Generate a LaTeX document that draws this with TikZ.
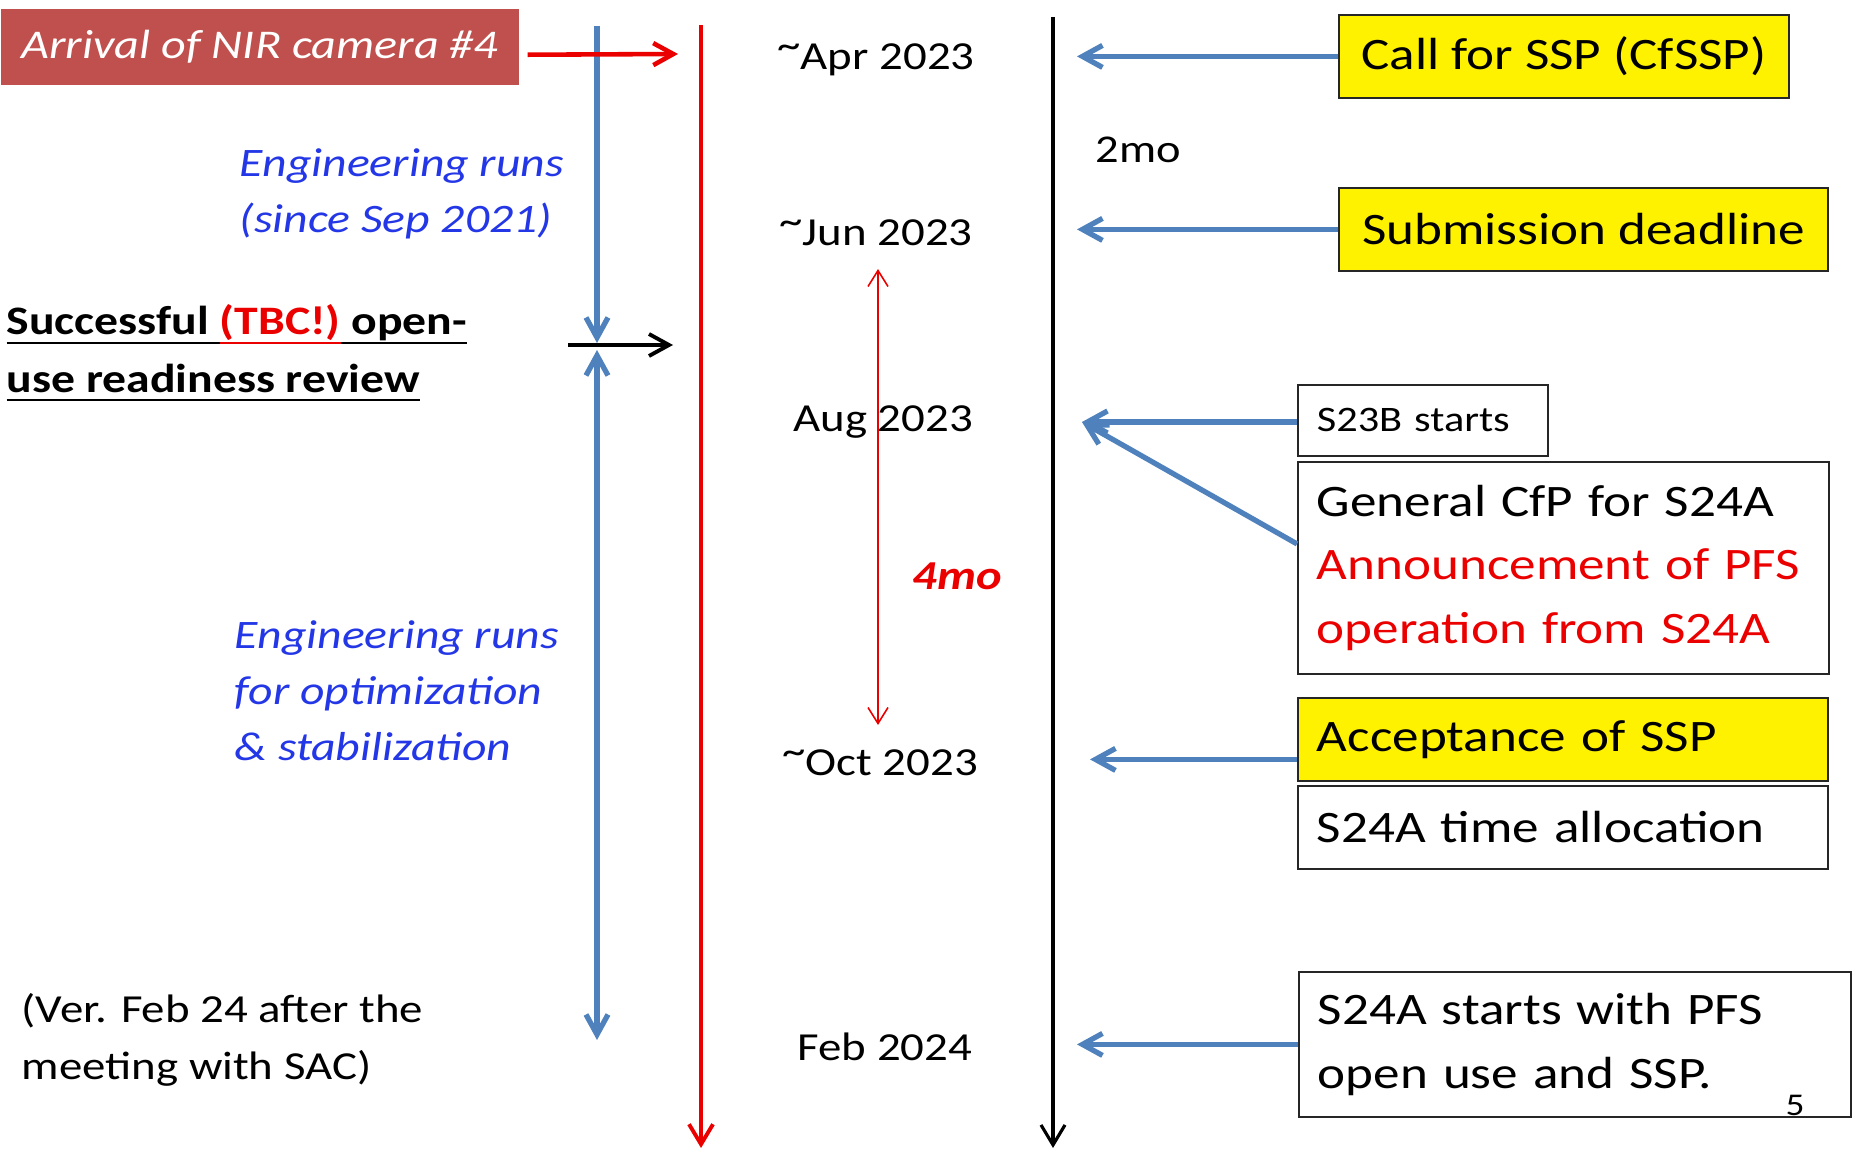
\documentclass[tikz,border=0pt]{standalone}
\usepackage{fontspec}
\setmainfont[FakeStretch=1.18]{Carlito}
\usetikzlibrary{arrows.meta, positioning}

\definecolor{boxred}{HTML}{C0504D}
\definecolor{lineblue}{HTML}{4F81BD}
\definecolor{engblue}{RGB}{35,55,230}
\definecolor{hotred}{RGB}{235,0,0}

% underlined piece of text, rule in the current colour
\newcommand\ulseg[1]{\setbox0\hbox{#1}\rlap{\vrule height -0.17em depth 0.22em width \wd0}\box0}
\newcommand\tl{\raisebox{0.28em}{\textasciitilde}}

\tikzset{
  barb/.style={-{Straight Barb[length=2mm,width=2.2mm]}},
  bluearrow/.style={barb, draw=lineblue, line width=1.5pt},
  datelabel/.style={font=\fontsize{11.3}{14}\selectfont, inner sep=0pt},
  englabel/.style={text=engblue, font=\fontsize{11.5}{15.9}\selectfont\itshape, align=left, inner sep=0pt, anchor=west},
  notebox/.style={draw=black!85, line width=0.5pt, anchor=north west, inner xsep=0.19cm, inner ysep=0pt, align=left, font=\fontsize{12.8}{18}\selectfont},
  yellowbox/.style={notebox, fill=yellow},
}

\begin{document}
\begin{tikzpicture}[x=0.01cm, y=-0.01cm]
\useasboundingbox (0,0) rectangle (1857,1149);

% time axes
\coordinate (redtop) at (701,25);
\coordinate (redbot) at (701,1148);
\coordinate (blktop) at (1053,17);
\coordinate (blkbot) at (1053,1148);
\draw[hotred, line width=1.1pt, -{Straight Barb[length=2mm,width=2.4mm]}] (redtop) -- (redbot);
\draw[black, line width=0.9pt, -{Straight Barb[length=2mm,width=2.4mm]}] (blktop) -- (blkbot);

% engineering runs
\coordinate (engtop) at (597,26);
\coordinate (engmidA) at (597,343);
\coordinate (engmidB) at (597,350);
\coordinate (engbot) at (597,1040);
\draw[bluearrow] (engtop) -- (engmidA);
\draw[bluearrow, {Straight Barb[length=2mm,width=2.2mm]}-{Straight Barb[length=2mm,width=2.2mm]}] (engmidB) -- (engbot);

\node[fill=boxred, text=white, anchor=north west, minimum width=5.18cm, minimum height=0.76cm, inner sep=0pt,
      font=\fontsize{11.6}{14}\selectfont\itshape] (arrival) at (0,8) {\raisebox{-0.14em}{Arrival of NIR camera \#4}};
\coordinate (arrtip) at (678,54);
\draw[hotred, line width=1.3pt, barb] ([xshift=0.08cm,yshift=-0.08cm]arrival.east) -- (arrtip);

\node[englabel] (engA) at (239,194) {Engineering runs\\(since Sep 2021)};
\node[englabel] (engB) at (234,691) {Engineering runs\\for optimization\\\& stabilization};

\node[anchor=west, align=left, inner sep=0pt, font=\fontsize{11.5}{16.4}\selectfont\bfseries] (review) at (6,353)
  {\ulseg{Successful\ }\textcolor{hotred}{\ulseg{(TBC!)}}\ulseg{\ open-}\\\ulseg{use readiness review}};
\coordinate (revtail) at (568,345);
\coordinate (revtip) at (673,345);
\draw[black, line width=1.1pt, barb] (revtail) -- (revtip);

\node[anchor=west, align=left, inner sep=0pt, font=\fontsize{11.3}{16.1}\selectfont] (version) at (21,1040)
  {(Ver. Feb 24 after the\\meeting with SAC)};

% dates
\node[datelabel] (apr) at (876,60) {\tl Apr 2023};
\node[datelabel] (jun) at (876,233) {\tl Jun 2023};
\node[datelabel] (aug) at (883,422) {Aug 2023};
\node[datelabel] (oct) at (880,763) {\tl Oct 2023};
\node[datelabel] (feb) at (885,1047) {Feb 2024};

\coordinate (fourtop) at (878,269);
\coordinate (fourbot) at (878,725);
\draw[hotred, line width=0.45pt, {Straight Barb[length=1.6mm,width=2mm]}-{Straight Barb[length=1.6mm,width=2mm]}] (fourtop) -- (fourbot);
\node[text=hotred, inner sep=0pt, font=\fontsize{11.7}{13}\selectfont\bfseries\itshape] (fourmo) at (957,576) {4mo};
\node[anchor=west, inner sep=0pt, font=\fontsize{11.2}{13}\selectfont] (twomo) at (1095,150) {2mo};

% events
\node[yellowbox, align=center, minimum width=4.50cm, minimum height=0.83cm] (cfssp) at (1338,14) {Call for SSP (CfSSP)};
\node[yellowbox, align=center, minimum width=4.89cm, minimum height=0.83cm] (deadline) at (1338,187) {Submission deadline};
\node[notebox, minimum width=2.50cm, text width=2.12cm, minimum height=0.71cm, font=\fontsize{10.2}{12}\selectfont] (s23b) at (1297,384) {S23B starts};
\node[notebox, minimum width=5.31cm, text width=4.93cm, minimum height=2.12cm] (cfp) at (1297,461)
  {General CfP for S24A\\\textcolor{hotred}{Announcement of PFS}\\\textcolor{hotred}{operation from S24A}};
\node[yellowbox, minimum width=5.30cm, text width=4.92cm, minimum height=0.83cm] (accept) at (1297,697) {Acceptance of SSP};
\node[notebox, minimum width=5.30cm, text width=4.92cm, minimum height=0.83cm] (alloc) at (1297,785) {S24A time allocation};
\node[notebox, minimum width=5.52cm, text width=5.14cm, minimum height=1.45cm] (s24a) at (1298,971)
  {S24A starts with PFS\\open use and SSP.};
\node[inner sep=0pt, font=\fontsize{9}{10}\selectfont] (pagenum) at (1795,1105) {5};

\coordinate (tipA) at (1077,0);
\coordinate (tipB) at (1082,422);
\coordinate (tipC) at (1090,0);
\draw[bluearrow] (cfssp.west) -- (cfssp.west -| tipA);
\draw[bluearrow] (deadline.west) -- (deadline.west -| tipA);
\draw[bluearrow] (s23b.west |- tipB) -- (tipB);
\draw[bluearrow] ([yshift=0.24cm]cfp.west) -- (tipB);
\draw[bluearrow] ([yshift=-0.2cm]accept.west) -- ([yshift=-0.2cm]accept.west -| tipC);
\draw[bluearrow] (s24a.west) -- (s24a.west -| tipA);
\end{tikzpicture}
\end{document}
